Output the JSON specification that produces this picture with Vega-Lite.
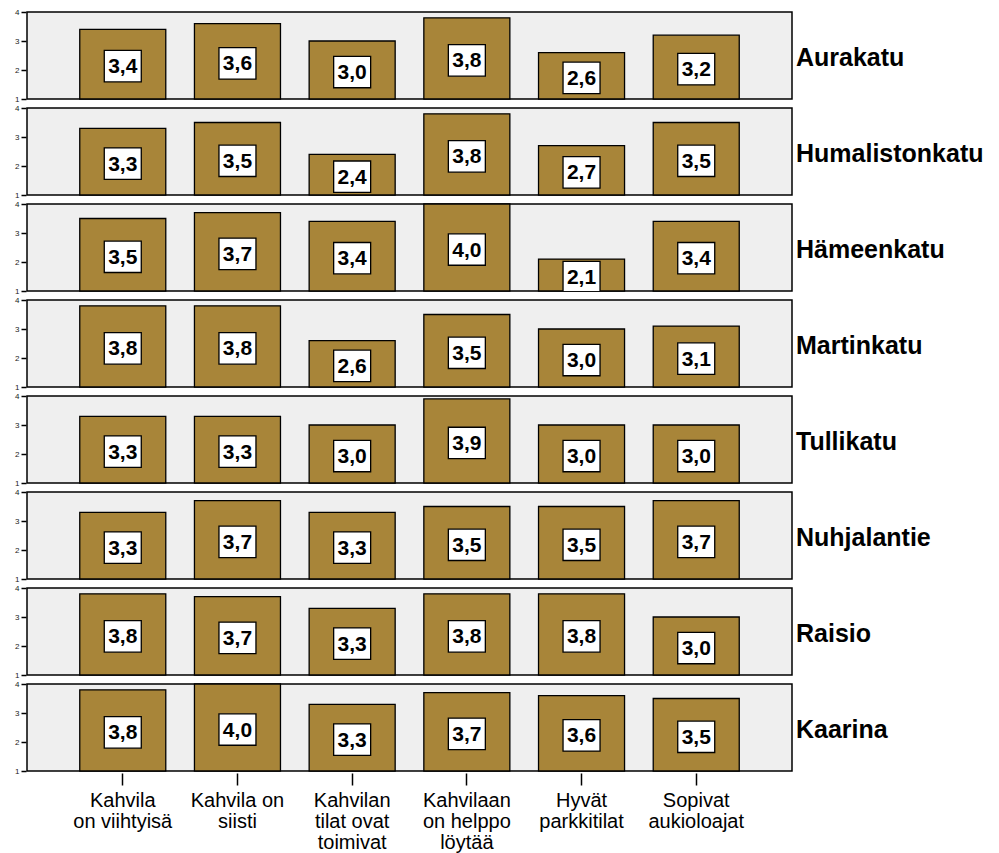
{
  "$schema": "https://vega.github.io/schema/vega-lite/v6.json",
  "padding": {"top": 8, "left": 5, "right": 5, "bottom": 2},
  "config": {
    "font": "Liberation Sans",
    "view": {"stroke": "#000", "strokeWidth": 1.5, "fill": "#EFEFEF"},
    "axisY": {"grid": false, "domain": false, "tickColor": "#000", "tickSize": 5, "tickWidth": 1.5, "labelFontSize": 8, "labelColor": "#222", "labelPadding": 2, "minExtent": 21, "maxExtent": 21, "values": [1, 2, 3, 4], "title": null},
    "axisX": {"grid": false, "domain": false, "tickColor": "#000", "tickSize": 12, "tickWidth": 1.5, "labelFontSize": 20, "labelLineHeight": 21, "labelColor": "#000", "labelPadding": 5, "labelAngle": 0, "title": null, "labelBaseline": "top"}
  },
  "data": {"values": [
    {"place": "Aurakatu", "item": "Kahvila on viihtyisä", "v": 3.4},
    {"place": "Aurakatu", "item": "Kahvila on siisti", "v": 3.6},
    {"place": "Aurakatu", "item": "Kahvilan tilat ovat toimivat", "v": 3.0},
    {"place": "Aurakatu", "item": "Kahvilaan on helppo löytää", "v": 3.8},
    {"place": "Aurakatu", "item": "Hyvät parkkitilat", "v": 2.6},
    {"place": "Aurakatu", "item": "Sopivat aukioloajat", "v": 3.2},
    {"place": "Humalistonkatu", "item": "Kahvila on viihtyisä", "v": 3.3},
    {"place": "Humalistonkatu", "item": "Kahvila on siisti", "v": 3.5},
    {"place": "Humalistonkatu", "item": "Kahvilan tilat ovat toimivat", "v": 2.4},
    {"place": "Humalistonkatu", "item": "Kahvilaan on helppo löytää", "v": 3.8},
    {"place": "Humalistonkatu", "item": "Hyvät parkkitilat", "v": 2.7},
    {"place": "Humalistonkatu", "item": "Sopivat aukioloajat", "v": 3.5},
    {"place": "Hämeenkatu", "item": "Kahvila on viihtyisä", "v": 3.5},
    {"place": "Hämeenkatu", "item": "Kahvila on siisti", "v": 3.7},
    {"place": "Hämeenkatu", "item": "Kahvilan tilat ovat toimivat", "v": 3.4},
    {"place": "Hämeenkatu", "item": "Kahvilaan on helppo löytää", "v": 4.0},
    {"place": "Hämeenkatu", "item": "Hyvät parkkitilat", "v": 2.1},
    {"place": "Hämeenkatu", "item": "Sopivat aukioloajat", "v": 3.4},
    {"place": "Martinkatu", "item": "Kahvila on viihtyisä", "v": 3.8},
    {"place": "Martinkatu", "item": "Kahvila on siisti", "v": 3.8},
    {"place": "Martinkatu", "item": "Kahvilan tilat ovat toimivat", "v": 2.6},
    {"place": "Martinkatu", "item": "Kahvilaan on helppo löytää", "v": 3.5},
    {"place": "Martinkatu", "item": "Hyvät parkkitilat", "v": 3.0},
    {"place": "Martinkatu", "item": "Sopivat aukioloajat", "v": 3.1},
    {"place": "Tullikatu", "item": "Kahvila on viihtyisä", "v": 3.3},
    {"place": "Tullikatu", "item": "Kahvila on siisti", "v": 3.3},
    {"place": "Tullikatu", "item": "Kahvilan tilat ovat toimivat", "v": 3.0},
    {"place": "Tullikatu", "item": "Kahvilaan on helppo löytää", "v": 3.9},
    {"place": "Tullikatu", "item": "Hyvät parkkitilat", "v": 3.0},
    {"place": "Tullikatu", "item": "Sopivat aukioloajat", "v": 3.0},
    {"place": "Nuhjalantie", "item": "Kahvila on viihtyisä", "v": 3.3},
    {"place": "Nuhjalantie", "item": "Kahvila on siisti", "v": 3.7},
    {"place": "Nuhjalantie", "item": "Kahvilan tilat ovat toimivat", "v": 3.3},
    {"place": "Nuhjalantie", "item": "Kahvilaan on helppo löytää", "v": 3.5},
    {"place": "Nuhjalantie", "item": "Hyvät parkkitilat", "v": 3.5},
    {"place": "Nuhjalantie", "item": "Sopivat aukioloajat", "v": 3.7},
    {"place": "Raisio", "item": "Kahvila on viihtyisä", "v": 3.8},
    {"place": "Raisio", "item": "Kahvila on siisti", "v": 3.7},
    {"place": "Raisio", "item": "Kahvilan tilat ovat toimivat", "v": 3.3},
    {"place": "Raisio", "item": "Kahvilaan on helppo löytää", "v": 3.8},
    {"place": "Raisio", "item": "Hyvät parkkitilat", "v": 3.8},
    {"place": "Raisio", "item": "Sopivat aukioloajat", "v": 3.0},
    {"place": "Kaarina", "item": "Kahvila on viihtyisä", "v": 3.8},
    {"place": "Kaarina", "item": "Kahvila on siisti", "v": 4.0},
    {"place": "Kaarina", "item": "Kahvilan tilat ovat toimivat", "v": 3.3},
    {"place": "Kaarina", "item": "Kahvilaan on helppo löytää", "v": 3.7},
    {"place": "Kaarina", "item": "Hyvät parkkitilat", "v": 3.6},
    {"place": "Kaarina", "item": "Sopivat aukioloajat", "v": 3.5}
  ]},
  "spacing": 5,
  "facet": {
    "row": {
      "field": "place", "type": "nominal",
      "sort": ["Aurakatu", "Humalistonkatu", "Hämeenkatu", "Martinkatu", "Tullikatu", "Nuhjalantie", "Raisio", "Kaarina"],
      "header": {"title": null, "labelOrient": "right", "labelAngle": 0, "labelAlign": "right", "labelBaseline": "line-top", "labelLineHeight": 6, "labelFontSize": 25, "labelFontWeight": "bold", "labelColor": "#000", "labelPadding": 3, "labelFont": "Liberation Sans"}
    }
  },
  "spec": {
    "width": 765,
    "height": 87,
    "transform": [
      {"calculate": "(datum.v + 1) / 2", "as": "mid"},
      {"calculate": "replace(format(datum.v, '.1f'), '.', ',')", "as": "lbl"}
    ],
    "encoding": {
      "x": {
        "field": "item", "type": "nominal",
        "sort": ["Kahvila on viihtyisä", "Kahvila on siisti", "Kahvilan tilat ovat toimivat", "Kahvilaan on helppo löytää", "Hyvät parkkitilat", "Sopivat aukioloajat"],
        "scale": {"paddingInner": 0.25, "paddingOuter": 0.46},
        "axis": {"labelExpr": "datum.value == 'Kahvila on viihtyisä' ? ['Kahvila', 'on viihtyisä'] : datum.value == 'Kahvila on siisti' ? ['Kahvila on', 'siisti'] : datum.value == 'Kahvilan tilat ovat toimivat' ? ['Kahvilan', 'tilat ovat', 'toimivat'] : datum.value == 'Kahvilaan on helppo löytää' ? ['Kahvilaan', 'on helppo', 'löytää'] : datum.value == 'Hyvät parkkitilat' ? ['Hyvät', 'parkkitilat'] : ['Sopivat', 'aukioloajat']"}
      }
    },
    "layer": [
      {
        "mark": {"type": "bar", "fill": "#A88539", "stroke": "#000", "strokeWidth": 1.3},
        "encoding": {
          "y": {"field": "v", "type": "quantitative", "scale": {"domain": [1, 4], "nice": false, "zero": false}, "title": null},
          "y2": {"datum": 1}
        }
      },
      {
        "mark": {"type": "point", "shape": "M-1,-0.85L1,-0.85L1,0.85L-1,0.85Z", "size": 1369, "filled": true, "fill": "#ffffff", "stroke": "#000", "strokeWidth": 1.3, "opacity": 1, "clip": true, "yOffset": 2},
        "encoding": {"y": {"field": "mid", "type": "quantitative", "title": null}}
      },
      {
        "mark": {"type": "text", "fontSize": 21, "fontWeight": "bold", "color": "#000", "baseline": "middle", "clip": true, "yOffset": 3},
        "encoding": {
          "y": {"field": "mid", "type": "quantitative", "title": null},
          "text": {"field": "lbl", "type": "nominal"}
        }
      }
    ]
  }
}
